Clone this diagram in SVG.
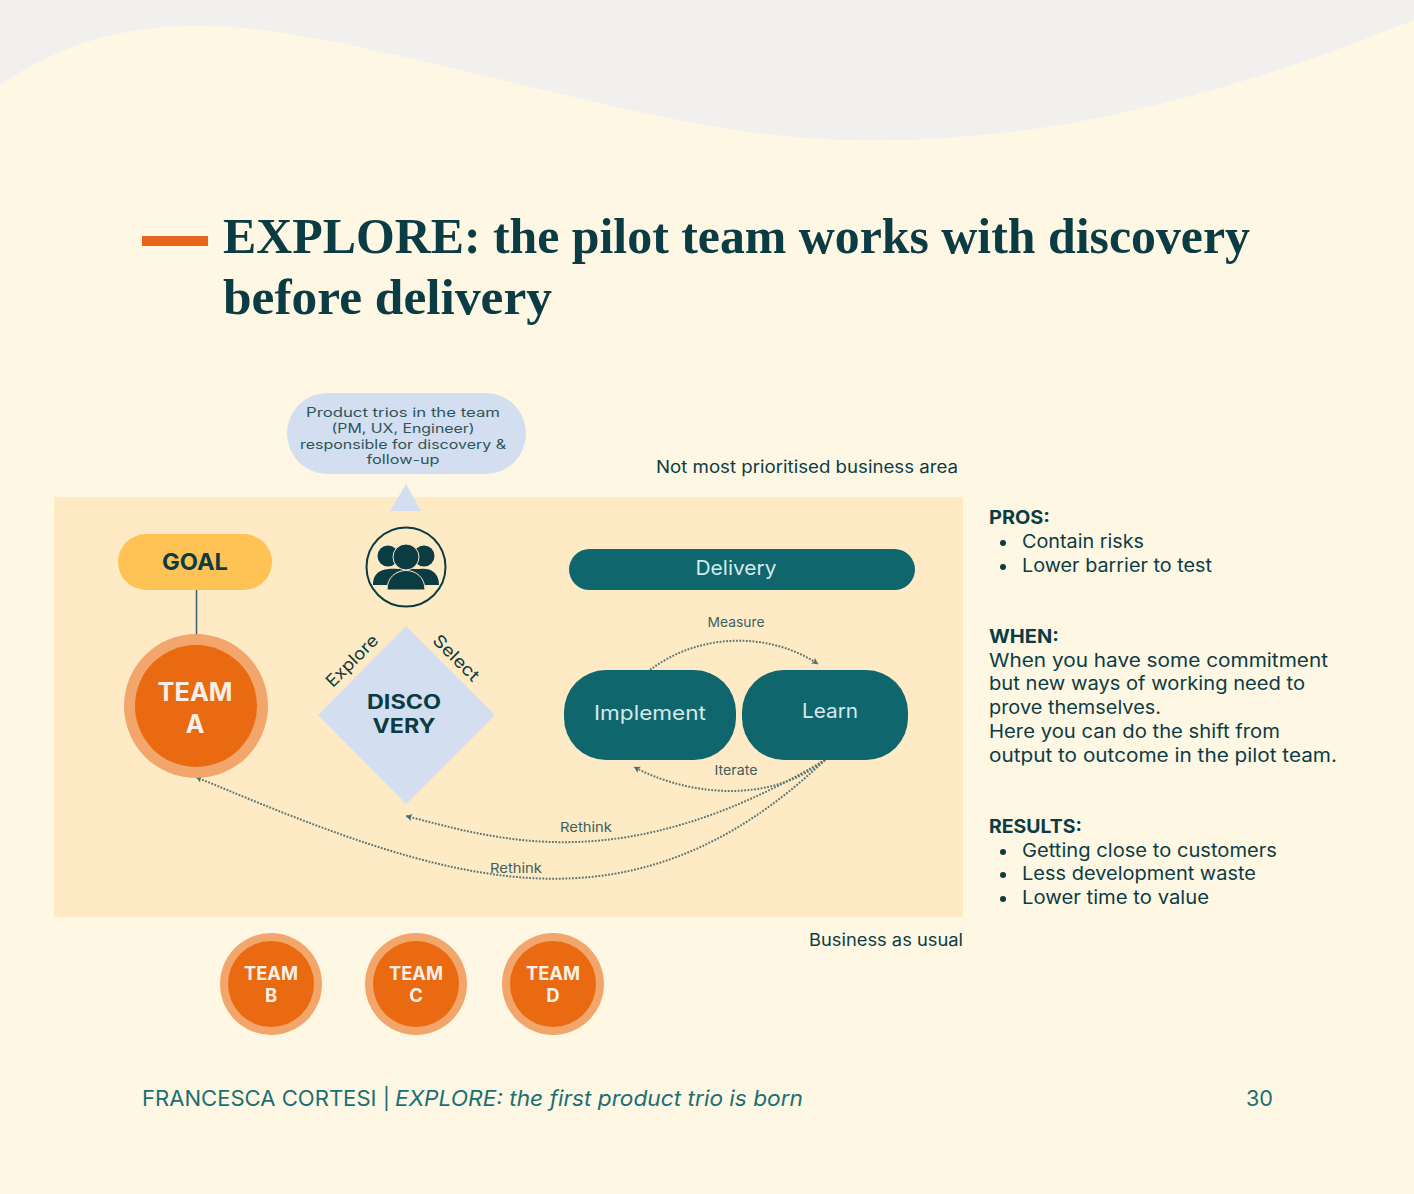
<svg xmlns="http://www.w3.org/2000/svg" width="1414" height="1194" viewBox="0 0 1414 1194">
<style>
text{font-family:"Inter","Liberation Sans",sans-serif;fill:#0b3c43}
.t{font-family:"Liberation Serif",serif;font-weight:700;font-size:50px}
.b{font-size:18.500px}
.h{font-size:18.500px;font-weight:700}
.s{font-size:13.500px;fill:#3f5f60}
.c{text-anchor:middle}
.w{fill:#f8f0e6;font-weight:700;text-anchor:middle}
.l{fill:#d6e9ea;text-anchor:middle;font-size:20px}
.p{font-size:12.700px;fill:#2c5559;text-anchor:middle}
.f{font-size:21px;fill:#1a6f74}
.link{fill:none;stroke:#5a7574;stroke-width:2;stroke-dasharray:1.800 1.500;marker-end:url(#a)}
.o{fill:#f2a66b}.i{fill:#e96a11}
</style>
<defs><marker id="a" markerUnits="userSpaceOnUse" markerWidth="8" markerHeight="8" refX="6" refY="3.500" orient="auto"><path d="M0 0L6 3.500L0 7L1.500 3.500Z" fill="#4f6c6c"/></marker></defs>
<rect width="1414" height="1194" fill="#fef7e3"/>
<path d="M0 0H1414V20C1290 70 1140 118 1000 133C860 148 770 140 640 112C510 84 400 52 290 34C170 14 80 30 0 85Z" fill="#f1f0ee"/>
<rect x="142" y="236" width="66" height="10" fill="#e8641a"/>
<text class="t" x="223" y="253" textLength="1027" lengthAdjust="spacingAndGlyphs">EXPLORE: the pilot team works with discovery</text>
<text class="t" x="223" y="314" textLength="329" lengthAdjust="spacingAndGlyphs">before delivery</text>
<rect x="54" y="497" width="909" height="420" fill="#feebc6"/>
<text x="656" y="473" font-size="17" textLength="302" lengthAdjust="spacingAndGlyphs">Not most prioritised business area</text>
<text x="809" y="946" font-size="17" textLength="154" lengthAdjust="spacingAndGlyphs">Business as usual</text>
<g id="connectors">
<path d="M196.500 590V636" stroke="#33666a" stroke-width="1.500" fill="none"/>
<path class="link" d="M650 670C700 632 770 632 818 664"/>
<path class="link" d="M825 760C765 808 680 792 634 767"/>
<path class="link" d="M825 760C623 880 500 840 406 816"/>
<path class="link" d="M825 760C627 947 446 882 196 777"/>
</g>
<g id="trios"><rect x="287" y="393" width="239" height="81" rx="40.500" fill="#d3def0"/>
<text class="p" x="403" y="417" textLength="194" lengthAdjust="spacingAndGlyphs">Product trios in the team</text>
<text class="p" x="403" y="433" textLength="143" lengthAdjust="spacingAndGlyphs">(PM, UX, Engineer)</text>
<text class="p" x="403" y="448.500" textLength="206" lengthAdjust="spacingAndGlyphs">responsible for discovery &amp;</text>
<text class="p" x="403" y="464" textLength="73" lengthAdjust="spacingAndGlyphs">follow-up</text></g>
<polygon id="tri" points="406,484 390,511 421,511" fill="#d3def0"/>
<g id="people"><circle cx="406" cy="567" r="39.500" fill="none" stroke="#0b3c43" stroke-width="2"/>
<circle cx="388" cy="556" r="10.500" fill="#0b3c43"/><circle cx="424" cy="556" r="10.500" fill="#0b3c43"/>
<path d="M373 585C373 570 385 568 398 569L420 569C430 568 439 572 439 585Z" fill="#0b3c43"/>
<circle cx="406" cy="557" r="13" fill="#0b3c43" stroke="#feebc6"/>
<path d="M387 590C387 564 425 564 425 590Z" fill="#0b3c43" stroke="#feebc6"/></g>
<g id="goal"><rect x="118" y="534" width="154" height="56" rx="28" fill="#ffc355"/>
<text x="195" y="570" font-size="23" font-weight="700" class="c" textLength="66" lengthAdjust="spacingAndGlyphs">GOAL</text></g>
<g id="teamA"><circle class="o" cx="196" cy="706" r="72"/><circle class="i" cx="196" cy="706" r="61"/>
<text class="w" x="195" y="701" font-size="25" textLength="75" lengthAdjust="spacingAndGlyphs">TEAM</text><text class="w" x="195" y="733" font-size="25">A</text></g>
<g id="discovery"><polygon points="406,626 495,715 406,804 318,715" fill="#d3def0"/>
<text x="404" y="709" font-size="19.500" font-weight="700" class="c" textLength="74" lengthAdjust="spacingAndGlyphs">DISCO</text>
<text x="404" y="733" font-size="19.500" font-weight="700" class="c" textLength="63" lengthAdjust="spacingAndGlyphs">VERY</text>
<text transform="translate(356 665) rotate(-45)" font-size="17" class="c" fill="#2c5559" textLength="66" lengthAdjust="spacingAndGlyphs">Explore</text>
<text transform="translate(452 662) rotate(45)" font-size="17" class="c" fill="#2c5559" textLength="58" lengthAdjust="spacingAndGlyphs">Select</text></g>
<g id="delivery"><rect x="569" y="549" width="346" height="41" rx="20.500" fill="#0f666d"/><text class="l" x="736" y="575" textLength="81" lengthAdjust="spacingAndGlyphs">Delivery</text></g>
<g id="implement"><rect x="564" y="670" width="172" height="90" rx="42" fill="#0f666d"/><text class="l" x="650" y="720" textLength="112" lengthAdjust="spacingAndGlyphs">Implement</text></g>
<g id="learn"><rect x="742" y="670" width="166" height="90" rx="42" fill="#0f666d"/><text class="l" x="830" y="718" textLength="56" lengthAdjust="spacingAndGlyphs">Learn</text></g>
<text class="s c" x="736" y="627" textLength="57" lengthAdjust="spacingAndGlyphs">Measure</text>
<text class="s c" x="736" y="775" textLength="43" lengthAdjust="spacingAndGlyphs">Iterate</text>
<text class="s c" x="586" y="832" textLength="52" lengthAdjust="spacingAndGlyphs">Rethink</text>
<text class="s c" x="516" y="873" textLength="52" lengthAdjust="spacingAndGlyphs">Rethink</text>
<g id="teamB"><circle class="o" cx="271" cy="984" r="51"/><circle class="i" cx="271" cy="984" r="43"/><text class="w" x="271" y="980" font-size="18.500" textLength="54" lengthAdjust="spacingAndGlyphs">TEAM</text><text class="w" x="271" y="1002" font-size="18.500">B</text></g>
<g id="teamC"><circle class="o" cx="416" cy="984" r="51"/><circle class="i" cx="416" cy="984" r="43"/><text class="w" x="416" y="980" font-size="18.500" textLength="54" lengthAdjust="spacingAndGlyphs">TEAM</text><text class="w" x="416" y="1002" font-size="18.500">C</text></g>
<g id="teamD"><circle class="o" cx="553" cy="984" r="51"/><circle class="i" cx="553" cy="984" r="43"/><text class="w" x="553" y="980" font-size="18.500" textLength="54" lengthAdjust="spacingAndGlyphs">TEAM</text><text class="w" x="553" y="1002" font-size="18.500">D</text></g>
<g id="side">
<text class="h" x="989" y="524" textLength="61" lengthAdjust="spacingAndGlyphs">PROS:</text>
<circle cx="1003" cy="543" r="3" fill="#0b3c43"/><text class="b" x="1022" y="548" textLength="122" lengthAdjust="spacingAndGlyphs">Contain risks</text>
<circle cx="1003" cy="567" r="3" fill="#0b3c43"/><text class="b" x="1022" y="572" textLength="190" lengthAdjust="spacingAndGlyphs">Lower barrier to test</text>
<text class="h" x="989" y="643" textLength="70" lengthAdjust="spacingAndGlyphs">WHEN:</text>
<text class="b" x="989" y="667" textLength="339" lengthAdjust="spacingAndGlyphs">When you have some commitment</text>
<text class="b" x="989" y="690" textLength="316" lengthAdjust="spacingAndGlyphs">but new ways of working need to</text>
<text class="b" x="989" y="714" textLength="172" lengthAdjust="spacingAndGlyphs">prove themselves.</text>
<text class="b" x="989" y="738" textLength="291" lengthAdjust="spacingAndGlyphs">Here you can do the shift from</text>
<text class="b" x="989" y="762" textLength="348" lengthAdjust="spacingAndGlyphs">output to outcome in the pilot team.</text>
<text class="h" x="989" y="833" textLength="93" lengthAdjust="spacingAndGlyphs">RESULTS:</text>
<circle cx="1003" cy="852" r="3" fill="#0b3c43"/><text class="b" x="1022" y="857" textLength="255" lengthAdjust="spacingAndGlyphs">Getting close to customers</text>
<circle cx="1003" cy="875" r="3" fill="#0b3c43"/><text class="b" x="1022" y="880" textLength="234" lengthAdjust="spacingAndGlyphs">Less development waste</text>
<circle cx="1003" cy="899" r="3" fill="#0b3c43"/><text class="b" x="1022" y="904" textLength="187" lengthAdjust="spacingAndGlyphs">Lower time to value</text>
</g>
<g id="footer"><text class="f" x="142" y="1105.500" textLength="248" lengthAdjust="spacingAndGlyphs">FRANCESCA CORTESI |</text>
<text class="f" font-style="italic" x="395" y="1105.500" textLength="408" lengthAdjust="spacingAndGlyphs">EXPLORE: the first product trio is born</text>
<text class="f" x="1246" y="1105.500" textLength="27" lengthAdjust="spacingAndGlyphs">30</text></g>
</svg>
